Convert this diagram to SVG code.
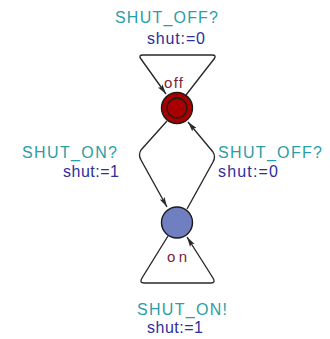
<svg xmlns="http://www.w3.org/2000/svg" width="330" height="339" viewBox="0 0 330 339">
  <style>
    .edge { fill: none; stroke: #2a2a2a; stroke-width: 1.4; stroke-linejoin: round; }
    .loc { stroke: #1a1a1a; stroke-width: 1.4; }
    .sync { font-family: "Liberation Sans", Arial, sans-serif; font-size: 16px; fill: #2a9ea6; }
    .assign { font-family: "Liberation Sans", Arial, sans-serif; font-size: 16px; fill: #2e2e9c; }
    .name { font-family: "Liberation Sans", Arial, sans-serif; font-size: 15px; fill: #7a2535; }
  </style>
  <defs>
    <marker id="arrow" viewBox="0 0 10 6" refX="10" refY="3" markerWidth="10" markerHeight="6" markerUnits="userSpaceOnUse" orient="auto">
      <path d="M0,0.3 L10,3 L0,5.7 L2,3 Z" fill="#2a2a2a"/>
    </marker>
  </defs>

  <!-- transitions -->
  <g id="edges">
    <!-- self loop on "off" -->
    <path class="edge" d="M186,95 L214,59 Q217,55 212,55 L143,55 Q138,55 141,59 L166,94" marker-end="url(#arrow)"/>
    <!-- off -> on -->
    <path class="edge" d="M167,121 L141,150 Q138,155 141,160 L167,207" marker-end="url(#arrow)"/>
    <!-- on -> off -->
    <path class="edge" d="M187,209 L213,162 Q216,157 213,152 L188,122" marker-end="url(#arrow)"/>
    <!-- self loop on "on" -->
    <path class="edge" d="M168,236 L142,278 Q139,283 144,283 L211,283 Q216,283 213,278 L187,237" marker-end="url(#arrow)"/>
  </g>

  <!-- edge labels -->
  <g id="labels">
    <text class="sync" x="115" y="23" textLength="103" lengthAdjust="spacing">SHUT_OFF?</text>
    <text class="assign" x="147" y="44" textLength="58" lengthAdjust="spacing">shut:=0</text>
    <text class="sync" x="22" y="158" textLength="95" lengthAdjust="spacing">SHUT_ON?</text>
    <text class="assign" x="63" y="177" textLength="56" lengthAdjust="spacing">shut:=1</text>
    <text class="sync" x="218" y="158" textLength="104" lengthAdjust="spacing">SHUT_OFF?</text>
    <text class="assign" x="218" y="177" textLength="60" lengthAdjust="spacing">shut:=0</text>
    <text class="sync" x="137" y="315" textLength="90" lengthAdjust="spacing">SHUT_ON!</text>
    <text class="assign" x="147" y="333" textLength="56" lengthAdjust="spacing">shut:=1</text>
  </g>

  <!-- initial location "off" -->
  <g id="off">
    <circle class="loc" cx="177" cy="108" r="15.5" fill="#a80000"/>
    <circle cx="177" cy="108" r="10" fill="none" stroke="#1a1a1a" stroke-width="1.3"/>
    <text class="name" x="164" y="88" textLength="19" lengthAdjust="spacing">off</text>
  </g>

  <!-- location "on" -->
  <g id="on">
    <circle class="loc" cx="177" cy="222.5" r="15.5" fill="#6f7fbf"/>
    <text class="name" x="167" y="262" textLength="20" lengthAdjust="spacing">on</text>
  </g>
</svg>
